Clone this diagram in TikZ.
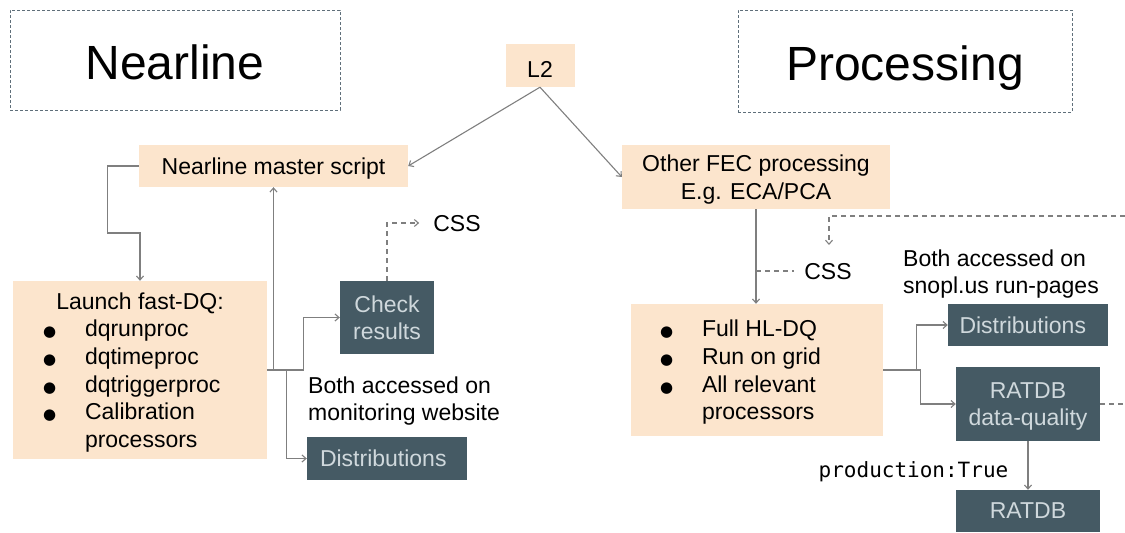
\documentclass[tikz,border=0pt]{standalone}
\usepackage{fontspec}
\setmainfont{Liberation Sans}
\setmonofont{DejaVu Sans Mono}
\newfontfamily\symfont{DejaVu Sans}
\usetikzlibrary{arrows.meta}

\definecolor{peach}{HTML}{FCE5CD}
\definecolor{slate}{HTML}{455A64}
\definecolor{boxtext}{HTML}{CFD8DC}
\definecolor{wirec}{HTML}{7F7F7F}
\definecolor{framec}{HTML}{5F6F7A}

% bullet followed by the item indent
\newcommand\itembul{\makebox[42pt][l]{\symfont\fontsize{15}{0}\selectfont ●}}

\tikzset{
  every node/.style={font=\fontsize{23}{27.6}\selectfont, text depth=0pt},
  peachbox/.style={fill=peach, inner sep=0pt},
  darkbox/.style={fill=slate, text=boxtext, inner sep=0pt, align=center},
  titlebox/.style={draw=framec, line width=0.9pt, dash pattern=on 3pt off 2pt,
                   font=\fontsize{48}{50}\selectfont, text height=39pt},
  wire/.style={draw=wirec, line width=1.1pt, -{Straight Barb[length=4pt,width=7pt]}},
  dashwire/.style={wire, dash pattern=on 5pt off 4pt},
  dashline/.style={draw=wirec, line width=1.1pt, dash pattern=on 5pt off 4pt},
}

\begin{document}
\begin{tikzpicture}[x=1pt, y=-1pt]
\useasboundingbox (0,0) rectangle (1125,533);

% section titles
\node[titlebox, minimum width=330pt, minimum height=100pt] (nearT) at (175,60) {Nearline};
\node[titlebox, minimum width=334pt, minimum height=102pt] (procT) at (905,61) {Processing};

% peach process boxes
\node[peachbox, minimum width=69pt, minimum height=43pt, font=\fontsize{23}{23}\selectfont, text height=23pt] (l2) at (540,65.5) {L2};
\node[peachbox, minimum width=269pt, minimum height=42pt] (master) at (273.5,166) {Nearline master script};
\node[peachbox, minimum width=268pt, minimum height=64pt, align=center] (fec) at (756,177) {Other FEC processing\\E.g. ECA/PCA};
\node[peachbox, minimum width=254pt, minimum height=178pt, align=left] (launch) at (140,370)
  {\makebox[194pt][c]{Launch fast-DQ:}\\
   \itembul dqrunproc\\
   \itembul dqtimeproc\\
   \itembul dqtriggerproc\\
   \itembul Calibration\\
   \hspace*{42pt}processors};
\node[peachbox, minimum width=252pt, minimum height=132pt, align=left] (hldq) at (757,370)
  {\makebox[194pt][l]{\itembul Full HL-DQ}\\
   \itembul Run on grid\\
   \itembul All relevant\\
   \hspace*{42pt}processors};

% dark output boxes
\node[darkbox, minimum width=94pt, minimum height=73pt] (check) at (387,317.5) {Check\\results};
\node[darkbox, text width=134pt, inner xsep=13pt, minimum height=43pt, align=left] (distL) at (387,458.5) {Distributions};
\node[darkbox, text width=137pt, inner xsep=11.5pt, minimum height=42pt, align=left] (distR) at (1028,325) {Distributions};
\node[darkbox, minimum width=144pt, minimum height=74pt] (ratdbdq) at (1028,404) {RATDB\\data-quality};
\node[darkbox, minimum width=144pt, minimum height=42pt] (ratdb) at (1028,511) {RATDB};

% free text
\node[inner xsep=14pt, inner ysep=0pt] (cssL) at (457,223) {CSS};
\node[inner xsep=10pt, inner ysep=0pt] (cssR) at (828,271) {CSS};
\node[anchor=west, align=left, inner sep=0pt] (bothL) at (308,398.5) {Both accessed on\\monitoring website};
\node[anchor=west, align=left, inner sep=0pt] (bothR) at (903,271.5) {Both accessed on\\snopl.us run-pages};
\node[font=\ttfamily\fontsize{21}{21}\selectfont, inner sep=0pt] (prod) at (913.5,470) {production:True};

% loose ends at the right border
\coordinate (edgeA) at (1125,216);
\coordinate (edgeB) at (1125,404);
\coordinate (cssRtip) at (829,245);

% connectors
\draw[wire] (l2.south) -- (master.east);
\draw[wire] (l2.south) -- (fec.west);
\draw[wire] (master.west) -| ++(-31,67) -| (launch.north);
\draw[wire] (launch.east) -| (master.south);
\draw[wire] (launch.east) -- ++(36,0) |- (check.west);
\draw[wire] (launch.east) -- ++(19,0) |- (distL.west);
\draw[dashwire] (check.north) |- (cssL.west);
\draw[wire] (fec.south) -- (fec.south |- hldq.north);
\draw[dashline] (fec.south |- cssR) -- (cssR.west);
\draw[dashwire] (edgeA) -| (cssRtip);
\draw[wire] (hldq.east) -- ++(33,0) |- (distR.west);
\draw[wire] (hldq.east) -- ++(37,0) |- (ratdbdq.west);
\draw[dashline] (ratdbdq.east) -- (edgeB);
\draw[wire] (ratdbdq.south) -- (ratdb.north);
\end{tikzpicture}
\end{document}
